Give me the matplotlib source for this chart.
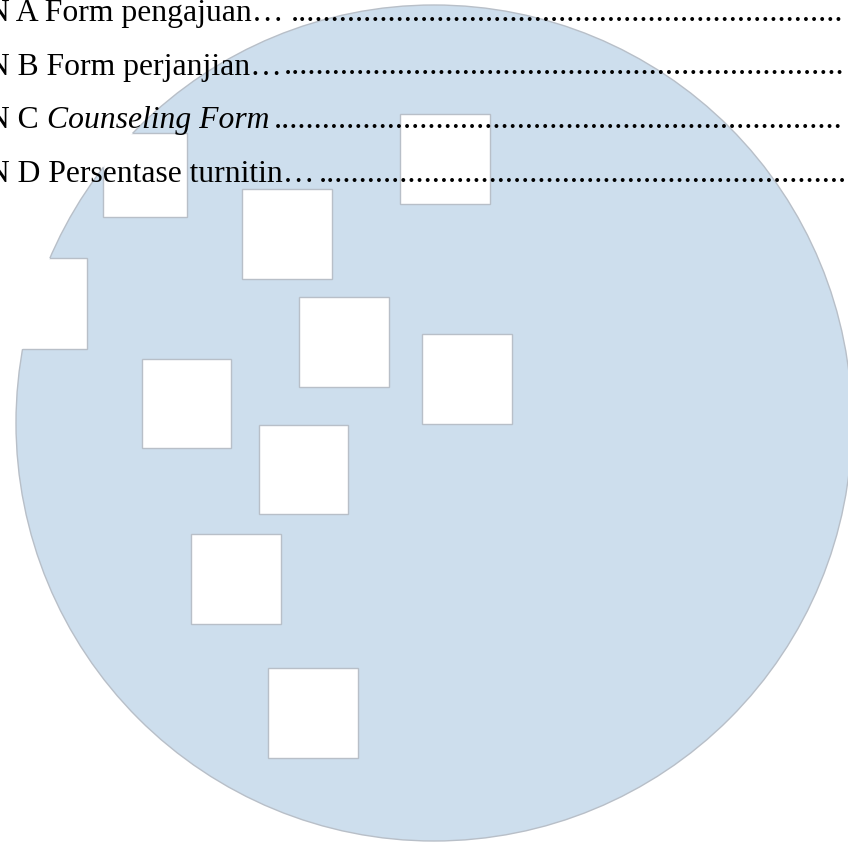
import matplotlib
matplotlib.use("Agg")
import matplotlib.pyplot as plt
from matplotlib.patches import Circle, Rectangle

# page size in pixels
W, H = 848, 842

# watermark: circle with white squares cut out (pixel coords, y down)
circle_cx, circle_cy, circle_r = 434, 423, 418
square_x = [103, 242, 400, 299, 422, 142, 259, 191, 268]
square_y = [133, 189, 114, 297, 334, 359, 425, 534, 668]
square_w = [84, 90, 90, 90, 90, 89, 89, 90, 90]
notch = (-10, 258, 97, 91)  # x, y, w, h of the left notch

# list of appendices (text lines)
prefixes = ["N A Form pengajuan…", "N B Form perjanjian…", "N C ", "N D Persentase turnitin…"]
italic_part = ["", "", "Counseling Form", ""]
baselines = [21, 74.5, 128, 181.5]
dot_start = [291, 284, 274, 319]
dot_count = [68, 69, 70, 65]

fill_c = "#cddeed"
edge_c = "#b8bfc8"

fig = plt.figure(figsize=(W / 100, H / 100), dpi=100)
ax = fig.add_axes([0, 0, 1, 1])
ax.set_xlim(0, W)
ax.set_ylim(H, 0)
ax.axis("off")

circ = Circle((circle_cx, circle_cy), circle_r, facecolor=fill_c,
              edgecolor=edge_c, linewidth=1.0, zorder=1)
ax.add_patch(circ)
clip = Circle((circle_cx, circle_cy), circle_r, transform=ax.transData)

holes = [notch] + [(x, y, s, s) for x, y, s in zip(square_x, square_y, square_w)]
for x, y, w, h in holes:
    ax.add_patch(Rectangle((x, y), w, h, facecolor="white", edgecolor="none", zorder=2))
    r = Rectangle((x, y), w, h, facecolor="none", edgecolor=edge_c, linewidth=1.0, zorder=3)
    ax.add_patch(r)
    r.set_clip_path(clip)

font = "Liberation Serif"
fs = 22.8
for i in range(4):
    ax.text(-13, baselines[i], prefixes[i], fontsize=fs, family=font,
            va="baseline", ha="left", color="black", zorder=5)
    if italic_part[i]:
        ax.text(47, baselines[i], italic_part[i], fontsize=fs, family=font,
                style="italic", va="baseline", ha="left", color="black", zorder=5)
    ax.text(dot_start[i], baselines[i], "." * dot_count[i], fontsize=23.3, family=font,
            va="baseline", ha="left", color="black", zorder=5)

fig.savefig("out.png", dpi=100)
